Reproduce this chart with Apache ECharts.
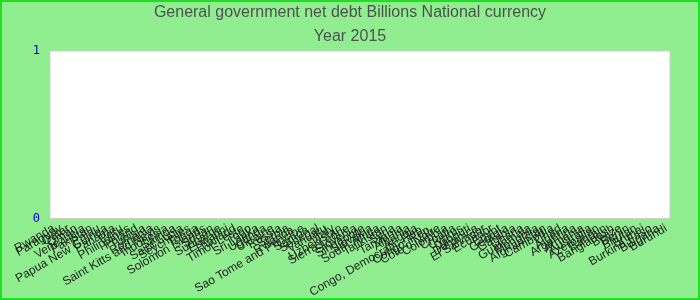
<!DOCTYPE html>
<html>
<head>
<meta charset="utf-8">
<script src="https://cdn.jsdelivr.net/npm/echarts@6/dist/echarts.min.js"></script>
<style>html,body{margin:0;padding:0;background:#90ee90;}#c{width:700px;height:300px;}</style>
</head>
<body>
<div id="c"></div>
<script>
const titleText = "General government net debt Billions National currency";
const subTitleText = "Year 2015";
const categories = [
  "Rwanda","Paraguay","Qatar","Oman","Venezuela","Pakistan","Palau","Papua New Guinea","Panama","Peru",
  "Philippines","Poland","Tunisia","Romania","Saint Kitts and Nevis","Indonesia","Samoa","Saint Lucia","Seychelles","Tonga",
  "Solomon Islands","Sudan","Suriname","Eswatini","Thailand","Timor-Leste","Togo","Sri Lanka","Uganda","Ukraine",
  "Russia","Serbia","Rwanda ","Sao Tome and Principe","Samoa ","Senegal","Vanuatu","Italy","Uzbekistan","Sierra Leone",
  "Slovenia","Singapore","Slovakia","South Africa","Tajikistan","Syria","Tanzania","Albania","Angola","Congo, Democratic Rep.",
  "Congo, Rep.","Cote d'Ivoire","Colombia","Croatia","Cyprus","Djibouti","Dominica","El Salvador","Ecuador","Egypt",
  "Georgia","Gambia","Ghana","Guatemala","Mongolia","Afghanistan","Cambodia","Chad","Algeria","Argentina",
  "Armenia","Australia","Azerbaijan","Bahrain","Bangladesh","Belize","Benin","Bhutan","Brunei","Burkina Faso",
  "Bulgaria","Burundi"
];
const values = categories.map(() => 0);
const yTicks = [0, 1];

const titleFont = { fontFamily: 'Liberation Sans, Arial, sans-serif', fontSize: 16, fontWeight: 'normal', color: '#505050', lineHeight: 20 };
const chart = echarts.init(document.getElementById('c'));
chart.setOption({
  backgroundColor: '#90ee90',
  animation: false,
  title: [
    { text: titleText, left: 'center', top: 3, padding: 0, textStyle: titleFont },
    { text: subTitleText, left: 'center', top: 27, padding: 0, textStyle: titleFont }
  ],
  graphic: [{
    type: 'rect', silent: true, z: 100,
    shape: { x: 1, y: 1, width: 698, height: 298 },
    style: { fill: 'none', stroke: '#1fe01f', lineWidth: 2 }
  }],
  grid: {
    left: 50, right: 30, top: 51, bottom: 81,
    show: true, backgroundColor: '#ffffff', borderColor: '#cccccc', borderWidth: 1
  },
  xAxis: {
    type: 'category',
    data: categories,
    axisLine: { show: false },
    axisTick: { show: false },
    axisLabel: {
      interval: 0, rotate: 30, margin: 9,
      fontFamily: 'Liberation Sans, Arial, sans-serif', fontSize: 12, color: '#222222'
    }
  },
  yAxis: {
    type: 'value',
    min: yTicks[0], max: yTicks[yTicks.length - 1], interval: 1,
    splitLine: { show: false },
    axisLine: { show: false },
    axisTick: { show: false },
    axisLabel: { margin: 10, padding: [0, 0, 5, 0], fontFamily: 'DejaVu Sans Mono, monospace', fontSize: 12, color: '#0000cc' }
  },
  series: [{
    type: 'bar',
    data: values,
    itemStyle: { color: '#4472c4' }
  }]
});
</script>
</body>
</html>
